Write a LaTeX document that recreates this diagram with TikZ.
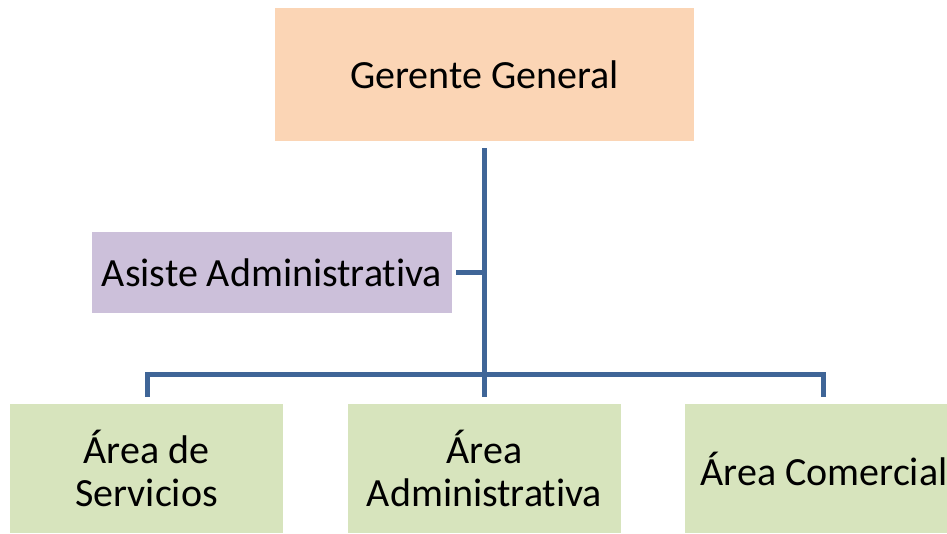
\documentclass[tikz,border=0pt]{standalone}
\usepackage{fontspec}
\setmainfont{Carlito}[Ligatures=NoCommon]
\definecolor{peach}{HTML}{FBD5B5}
\definecolor{lav}{HTML}{CCC0DA}
\definecolor{grn}{HTML}{D7E4BD}
\definecolor{ln}{HTML}{3F6597}
\begin{document}
\begin{tikzpicture}[x=1pt,y=-1pt,
  box/.style={inner sep=0pt,minimum width=#1,align=center,font=\fontsize{40}{43}\selectfont},
  conn/.style={draw=ln,line width=5pt}]
\useasboundingbox (0,0) rectangle (947,533);
\node[box=419pt,fill=peach,minimum height=133pt] (gg) at (484.5,74.5) {Gerente General};
\node[box=360pt,fill=lav,minimum height=81pt] (as) at (272,272.5) {Asiste Administrativa};
\node[box=273pt,fill=grn,minimum height=129pt] (s) at (146.5,468.5) {Área de\\Servicios};
\node[box=273pt,fill=grn,minimum height=129pt] (a) at (484.5,468.5) {Área\\Administrativa};
\node[box=278pt,fill=grn,minimum height=129pt] (c) at (824,468.5) {Área Comercial};
\coordinate (top) at (484.5,148);
\coordinate (ja) at (484.5,272.5);
\draw[conn] (top) -- (484.5,397);
\draw[conn] (as.east) ++(4,0) -- (ja);
\draw[conn] (147,397) -- (147,374) -- (823,374) -- (823,397);
\end{tikzpicture}
\end{document}
